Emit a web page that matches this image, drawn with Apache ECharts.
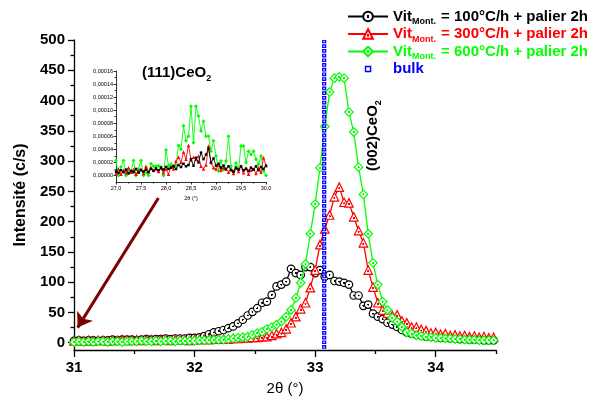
<!DOCTYPE html>
<html><head><meta charset="utf-8">
<script src="https://cdn.jsdelivr.net/npm/echarts@6/dist/echarts.min.js"></script>
<style>html,body{margin:0;padding:0;background:#fff}#c{width:591px;height:406px}</style>
</head><body><div id="c"></div>
<script>
// ---------- main pattern (2θ in degrees, intensity in c/s) ----------
const twoTheta = [31.00,31.04,31.08,31.12,31.16,31.20,31.24,31.28,31.32,31.36,
31.40,31.44,31.48,31.52,31.56,31.60,31.64,31.68,31.72,31.76,
31.80,31.84,31.88,31.92,31.96,32.00,32.04,32.08,32.12,32.16,
32.20,32.24,32.28,32.32,32.36,32.40,32.44,32.48,32.52,32.56,
32.60,32.64,32.68,32.72,32.76,32.80,32.84,32.88,32.92,32.96,
33.00,33.04,33.08,33.12,33.16,33.20,33.24,33.28,33.32,33.36,
33.40,33.44,33.48,33.52,33.56,33.60,33.64,33.68,33.72,33.76,
33.80,33.84,33.88,33.92,33.96,34.00,34.04,34.08,34.12,34.16,
34.20,34.24,34.28,34.32,34.36,34.40,34.44,34.48];
const v100 = [3,4,3,4,4,3,4,4,5,4,5,5,5,4,5,6,5,6,6,7,6,7,7,
7,8,8,9,11,14,17,
19,21,24,27,32,38,45,51,57,66,
68,79,93,96,101,122,115,112,125,125,
115,120,109,112,102,101,99,96,78,78,
61,63,48,43,39,33,30,26,21,17,
15,13,12,10,10,9,8,8,7,7,
6,6,5,5,5,4,4,4];
const v300 = [3,4,3,4,3,4,4,3,4,4,5,4,4,5,4,5,5,4,5,5,4,5,5,5,4,5,5,6,5,6,
6,6,6,7,7,8,8,9,9,10,
10,12,15,17,23,33,43,56,66,91,
120,162,188,211,241,257,232,231,208,185,
165,120,92,66,54,49,45,46,36,33,
26,26,22,20,16,17,14,15,12,13,
11,12,10,11,9,10,8,9];
const v600 = [1,2,1,2,1,2,2,1,2,2,1,2,2,2,3,2,2,3,2,3,3,2,3,3,3,3,4,4,4,5,5,5,
6,7,8,9,10,13,16,18,
23,26,30,35,43,54,74,99,130,180,
229,289,357,414,437,439,437,381,348,290,
245,180,132,96,68,54,41,35,26,17,
15,12,11,10,9,8,8,7,7,6,
6,5,5,5,4,4,4,4];
const bulkTheta = [33.075, 33.075];
const bulkIntensity = [-10, 500];

const xTicks = [31, 32, 33, 34];
const xMinorTicks = [31.5, 32.5, 33.5, 34.5];
const yTicks = [0, 50, 100, 150, 200, 250, 300, 350, 400, 450, 500];
const yMinorTicks = [25, 75, 125, 175, 225, 275, 325, 375, 425, 475];

// ---------- inset (111) region, intensity in units of 1e-5 ----------
const insetTheta = [27.00,27.05,27.10,27.15,27.20,27.25,27.30,27.35,27.40,27.45,
27.50,27.55,27.60,27.65,27.70,27.75,27.80,27.85,27.90,27.95,
28.00,28.05,28.10,28.15,28.20,28.25,28.30,28.35,28.40,28.45,
28.50,28.55,28.60,28.65,28.70,28.75,28.80,28.85,28.90,28.95,
29.00,29.05,29.10,29.15,29.20,29.25,29.30,29.35,29.40,29.45,
29.50,29.55,29.60,29.65,29.70,29.75,29.80,29.85,29.90,29.95,30.00];
const inset600 = [2.3,0,1.3,2.3,0,0.7,0.5,2.3,0,1.0,
2.3,0,0.4,0,1.8,1.4,1.4,1.5,1.3,0,
3.9,1.5,1.7,1.5,1.5,4.6,4.0,7.6,5.3,6.0,
10.6,5.0,10.6,9.1,6.8,8.3,6.0,6.0,3.7,5.3,
3.0,0.7,2.2,0.9,2.2,6.0,1.4,0.5,1.9,0.9,
4.5,4.5,2.0,3.7,3.2,3.7,2.5,1.7,3.0,0.7,0];
const inset300 = [0.3,1.0,0.2,0.8,0.4,1.2,0.5,0.9,0.2,0.7,
1.0,0.3,1.4,0.6,1.2,0.8,1.0,0.6,1.1,0.4,
1.0,0.2,1.3,1.0,2.2,2.8,2.0,3.6,2.5,4.6,
2.4,2.8,2.5,3.0,1.4,1.0,1.6,4.5,2.0,1.2,
1.0,1.6,0.8,1.2,1.0,0.5,1.0,0.3,1.1,0.6,
1.4,0.4,1.2,0.2,0.8,1.0,0.3,1.2,0.5,2.7,1.5];
const inset100 = [0.6,0.4,0.8,0.5,0.9,0.3,0.7,0.5,1.0,0.4,
0.8,0.6,0.9,0.5,1.0,0.7,1.1,0.8,1.2,0.9,
1.3,1.0,1.2,1.4,1.0,1.6,1.3,1.8,1.4,1.6,
2.5,1.5,2.7,2.0,3.5,2.5,3.2,4.1,2.0,2.6,
1.5,1.8,1.2,1.5,1.0,1.4,0.8,0.6,1.2,0.9,
1.4,0.8,1.0,0.7,1.2,0.9,1.4,0.8,1.3,1.0,1.5];
const insetXTicks = [27, 27.5, 28, 28.5, 29, 29.5, 30];
const insetXMinorTicks = [27.25, 27.75, 28.25, 28.75, 29.25, 29.75];
const insetYTicks = [0, 2, 4, 6, 8, 10, 12, 14, 16];
const insetYMinorTicks = [1, 3, 5, 7, 9, 11, 13, 15];

// ---------- annotations (data coordinates) ----------
const arrowFrom = [31.70, 239];
const arrowTo = [31.03, 25];
const peakLabelAt = [33.48, 343];

const FONT = "'Liberation Sans', Arial, Helvetica, sans-serif";
const BLACK = '#000000', RED = '#ff0000', GREEN = '#00ff00', BLUE = '#0000ff';

function dotFill(c, cy) {
  return {type: 'radial', x: 0.5, y: cy, r: 0.5, colorStops: [
    {offset: 0, color: c}, {offset: 0.2, color: c},
    {offset: 0.24, color: '#ffffff'}, {offset: 1, color: '#ffffff'}]};
}
function pairs(xs, ys) { return xs.map((x, i) => [x, ys[i]]); }

const tickStyle = {color: '#000', width: 1.3};
const labelStyle = {fontFamily: FONT, fontSize: 15, fontWeight: 'bold', color: '#000'};
const insetLabel = {fontFamily: FONT, fontSize: 5.5, color: '#000'};

const legendText = {
  v100: '{k1|Vit}{k2|Mont.}{k1| = 100°C/h + palier 2h}',
  v300: '{r1|Vit}{r2|Mont.}{r1| = 300°C/h + palier 2h}',
  v600: '{g1|Vit}{g2|Mont.}{g1| = 600°C/h + palier 2h}',
  bulk: '{b1|bulk}'
};
function big(c) { return {color: c, fontFamily: FONT, fontSize: 15, fontWeight: 'bold'}; }
function sub(c) { return {color: c, fontFamily: FONT, fontSize: 9, fontWeight: 'bold', padding: [11, 1, 0, 0]}; }

const chart = echarts.init(document.getElementById('c'), null, {renderer: 'canvas'});
const option = {
  animation: false,
  backgroundColor: '#fff',
  title: {
    text: '{a|(111)CeO}{b|2}', left: 142, top: 63, padding: 0,
    textStyle: {rich: {a: big('#000'), b: sub('#000')}}
  },
  legend: {
    orient: 'vertical', right: 3, top: 9, padding: 0, itemGap: 0,
    itemWidth: 40, itemHeight: 12,
    data: [
      {name: 'v100'}, {name: 'v300'}, {name: 'v600'},
      {name: 'bulk', icon: 'path://M0,0L0,0ZM10,10L10,10ZM2.3,2.3L7.7,2.3L7.7,7.7L2.3,7.7ZM3.5,3.5L3.5,6.5L6.5,6.5L6.5,3.5Z'}
    ],
    formatter: n => legendText[n],
    textStyle: {fontFamily: FONT, fontSize: 15, fontWeight: 'bold', rich: {
      k1: big(BLACK), k2: sub(BLACK), r1: big(RED), r2: sub(RED),
      g1: big(GREEN), g2: sub(GREEN), b1: big(BLUE)
    }}
  },
  grid: [
    {left: 74, top: 40, width: 422, height: 310},
    {left: 116, top: 71, width: 150, height: 111}
  ],
  xAxis: [
    {gridIndex: 0, type: 'value', min: 31, max: 34.5, position: 'bottom',
     axisLine: {onZero: false, lineStyle: tickStyle},
     axisTick: {customValues: xTicks, length: 7, lineStyle: tickStyle},
     axisLabel: Object.assign({customValues: xTicks, margin: 10}, labelStyle),
     splitLine: {show: false},
     name: '2θ (°)', nameLocation: 'middle', nameGap: 31,
     nameTextStyle: {fontFamily: FONT, fontSize: 15, color: '#000'}},
    {gridIndex: 0, type: 'value', min: 31, max: 34.5, position: 'bottom',
     axisLine: {show: false, onZero: false},
     axisTick: {customValues: xMinorTicks, length: 4, lineStyle: tickStyle},
     axisLabel: {show: false}, splitLine: {show: false}},
    {gridIndex: 1, type: 'value', min: 27, max: 30, position: 'bottom',
     axisLine: {onZero: false, lineStyle: {color: '#000', width: 0.8}},
     axisTick: {customValues: insetXTicks, length: 2.5, lineStyle: {color: '#000', width: 0.8}},
     axisLabel: Object.assign({customValues: insetXTicks, margin: 3,
       formatter: v => v.toFixed(1).replace('.', ',')}, insetLabel),
     splitLine: {show: false},
     name: '2θ (°)', nameLocation: 'middle', nameGap: 13, nameTextStyle: insetLabel},
    {gridIndex: 1, type: 'value', min: 27, max: 30, position: 'bottom',
     axisLine: {show: false, onZero: false},
     axisTick: {customValues: insetXMinorTicks, length: 1.5, lineStyle: {color: '#000', width: 0.8}},
     axisLabel: {show: false}, splitLine: {show: false}}
  ],
  yAxis: [
    {gridIndex: 0, type: 'value', min: -12, max: 500, position: 'left',
     axisLine: {show: true, onZero: false, lineStyle: tickStyle},
     axisTick: {show: true, customValues: yTicks, length: 6, lineStyle: tickStyle},
     axisLabel: Object.assign({customValues: yTicks, margin: 9}, labelStyle),
     splitLine: {show: false},
     name: 'Intensité (c/s)', nameLocation: 'middle', nameGap: 45,
     nameTextStyle: {fontFamily: FONT, fontSize: 16, fontWeight: 'bold', color: '#000'}},
    {gridIndex: 0, type: 'value', min: -12, max: 500, position: 'left',
     axisLine: {show: false, onZero: false},
     axisTick: {show: true, customValues: yMinorTicks, length: 3.5, lineStyle: tickStyle},
     axisLabel: {show: false}, splitLine: {show: false}},
    {gridIndex: 1, type: 'value', min: -1, max: 16, position: 'left',
     axisLine: {show: true, onZero: false, lineStyle: {color: '#000', width: 0.8}},
     axisTick: {show: true, customValues: insetYTicks, length: 2.5, lineStyle: {color: '#000', width: 0.8}},
     axisLabel: Object.assign({customValues: insetYTicks, margin: 3,
       formatter: v => (v / 100000).toFixed(5).replace('.', ',')}, insetLabel),
     splitLine: {show: false}},
    {gridIndex: 1, type: 'value', min: -1, max: 16, position: 'left',
     axisLine: {show: false, onZero: false},
     axisTick: {show: true, customValues: insetYMinorTicks, length: 1.5, lineStyle: {color: '#000', width: 0.8}},
     axisLabel: {show: false}, splitLine: {show: false}}
  ],
  series: [
    {name: 'v100', type: 'line', xAxisIndex: 0, yAxisIndex: 0, data: pairs(twoTheta, v100),
     symbol: 'circle', symbolSize: 7.5, z: 2,
     itemStyle: {color: dotFill(BLACK, 0.5), borderColor: BLACK, borderWidth: 1.2},
     lineStyle: {color: BLACK, width: 1.3}},
    {name: 'v300', type: 'line', xAxisIndex: 0, yAxisIndex: 0, data: pairs(twoTheta, v300),
     symbol: 'triangle', symbolSize: 8.5, z: 3,
     itemStyle: {color: dotFill(RED, 0.62), borderColor: RED, borderWidth: 1.2},
     lineStyle: {color: RED, width: 1.3}},
    {name: 'v600', type: 'line', xAxisIndex: 0, yAxisIndex: 0, data: pairs(twoTheta, v600),
     symbol: 'diamond', symbolSize: 8.5, z: 4,
     itemStyle: {color: dotFill(GREEN, 0.5), borderColor: GREEN, borderWidth: 1.2},
     lineStyle: {color: GREEN, width: 1.3}},
    {name: 'bulk', type: 'line', xAxisIndex: 0, yAxisIndex: 0, data: pairs(bulkTheta, bulkIntensity),
     symbol: 'none', z: 5, itemStyle: {color: BLUE},
     lineStyle: {color: BLUE, width: 4.2, type: [3.7, 1.0]}},
    {name: 'bulkInner', type: 'line', xAxisIndex: 0, yAxisIndex: 0, data: pairs(bulkTheta, bulkIntensity),
     symbol: 'none', z: 6, silent: true,
     lineStyle: {color: '#d6d6ff', width: 1.6, type: [1.5, 3.2], dashOffset: 3.6}},
    {name: 'arrow', type: 'line', xAxisIndex: 0, yAxisIndex: 0, data: [], z: 7,
     markLine: {silent: true, symbol: ['none', 'arrow'], symbolSize: 14, label: {show: false},
       lineStyle: {color: '#7f0000', width: 3, type: 'solid'},
       data: [[{coord: arrowFrom}, {coord: arrowTo}]]}},
    {name: 'i600', type: 'line', xAxisIndex: 2, yAxisIndex: 2, data: pairs(insetTheta, inset600),
     symbol: 'diamond', symbolSize: 4, z: 2,
     itemStyle: {color: GREEN}, lineStyle: {color: GREEN, width: 0.9}},
    {name: 'i300', type: 'line', xAxisIndex: 2, yAxisIndex: 2, data: pairs(insetTheta, inset300),
     symbol: 'triangle', symbolSize: 3.5, z: 3,
     itemStyle: {color: RED}, lineStyle: {color: RED, width: 0.9}},
    {name: 'i100', type: 'line', xAxisIndex: 2, yAxisIndex: 2, data: pairs(insetTheta, inset100),
     symbol: 'rect', symbolSize: 2.5, z: 4,
     itemStyle: {color: BLACK}, lineStyle: {color: BLACK, width: 0.9}}
  ]
};
chart.setOption(option);
const p = chart.convertToPixel({xAxisIndex: 0, yAxisIndex: 0}, peakLabelAt);
chart.setOption({graphic: [{
  type: 'text', x: p[0], y: p[1], rotation: Math.PI / 2, z: 10,
  style: {text: '{a|(002)CeO}{b|2}', align: 'center', verticalAlign: 'middle',
    rich: {a: big('#000'), b: sub('#000')}}
}]});
</script></body></html>
